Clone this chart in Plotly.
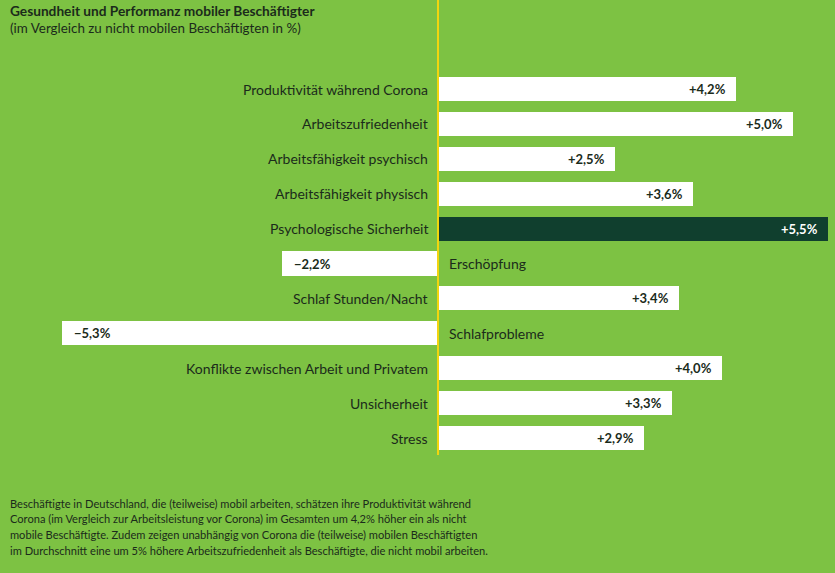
import plotly.graph_objects as go

categories = [
    "Produktivität während Corona",
    "Arbeitszufriedenheit",
    "Arbeitsfähigkeit psychisch",
    "Arbeitsfähigkeit physisch",
    "Psychologische Sicherheit",
    "Erschöpfung",
    "Schlaf Stunden/Nacht",
    "Schlafprobleme",
    "Konflikte zwischen Arbeit und Privatem",
    "Unsicherheit",
    "Stress",
]
values = [4.2, 5.0, 2.5, 3.6, 5.5, -2.2, 3.4, -5.3, 4.0, 3.3, 2.9]
highlight = "Psychologische Sicherheit"

title = "Gesundheit und Performanz mobiler Beschäftigter"
subtitle = "(im Vergleich zu nicht mobilen Beschäftigten in %)"
footnote = [
    "Beschäftigte in Deutschland, die (teilweise) mobil arbeiten, schätzen ihre Produktivität während",
    "Corona (im Vergleich zur Arbeitsleistung vor Corona) im Gesamten um 4,2% höher ein als nicht",
    "mobile Beschäftigte. Zudem zeigen unabhängig von Corona die (teilweise) mobilen Beschäftigten",
    "im Durchschnitt eine um 5% höhere Arbeitszufriedenheit als Beschäftigte, die nicht mobil arbeiten.",
]

BG = "#7DC243"
DARK = "#103F2E"
TXT = "#1B2B1B"
FONT = "Lato"

W, H = 835, 573
zero_px, end_px = 438, 828
scale = (end_px - zero_px) / 5.5
x_range = [-zero_px / scale, (W - zero_px) / scale]
top_px, bot_px = 89, 438
step = (bot_px - top_px) / (len(categories) - 1)
y_top = -top_px / step
y_bot = (len(categories) - 1) + (H - bot_px) / step

ypos = list(range(len(categories)))
colors = [DARK if c == highlight else "white" for c in categories]

fig = go.Figure(go.Bar(
    x=values, y=ypos, orientation="h",
    marker=dict(color=colors, line=dict(width=0)),
    width=0.69, hoverinfo="skip",
))

def fmt(v):
    s = f"{abs(v):.1f}".replace(".", ",")
    return ("+" if v >= 0 else "\u2212") + s + "%"

annotations = []
for i, (c, v) in enumerate(zip(categories, values)):
    pos = v >= 0
    annotations.append(dict(
        x=0, y=i, xref="x", yref="y", text=c, showarrow=False,
        xanchor="right" if pos else "left", xshift=-8 if pos else 9,
        font=dict(family=FONT, size=14, color=TXT),
    ))
    annotations.append(dict(
        x=v, y=i, xref="x", yref="y", text="<b>" + fmt(v) + "</b>", showarrow=False,
        xanchor="right" if pos else "left", xshift=-8 if pos else 10,
        font=dict(family=FONT, size=13, color="white" if c == highlight else TXT),
    ))

annotations.append(dict(x=8, y=H - 10, xref="paper", yref="paper", text="<b>" + title + "</b>",
                        showarrow=False, xanchor="left", yanchor="middle",
                        font=dict(family=FONT, size=13.7, color=TXT)))
annotations.append(dict(x=8, y=H - 28, xref="paper", yref="paper", text=subtitle,
                        showarrow=False, xanchor="left", yanchor="middle",
                        font=dict(family=FONT, size=13.4, color=TXT)))
for k, line in enumerate(footnote):
    annotations.append(dict(x=8, y=H - (503 + k * 15.7), xref="paper", yref="paper", text=line,
                            showarrow=False, xanchor="left", yanchor="middle",
                            font=dict(family=FONT, size=11.1, color=TXT)))

for a in annotations:
    if a["xref"] == "paper":
        a["x"] = a["x"] / W
        a["y"] = a["y"] / H

fig.update_layout(
    width=W, height=H,
    margin=dict(l=0, r=0, t=0, b=0),
    paper_bgcolor=BG, plot_bgcolor=BG,
    showlegend=False,
    xaxis=dict(range=x_range, visible=False, fixedrange=True),
    yaxis=dict(range=[y_bot, y_top], visible=False, fixedrange=True),
    annotations=annotations,
    shapes=[dict(type="line", xref="x", yref="paper", x0=0, x1=0,
                 y0=1 - 455 / H, y1=1, line=dict(color="#F2D50F", width=2), layer="above")],
    bargap=0,
)

fig.write_html("out.html", config={"displayModeBar": False},
               post_script="document.body.style.margin='0';document.body.style.overflow='hidden';")
